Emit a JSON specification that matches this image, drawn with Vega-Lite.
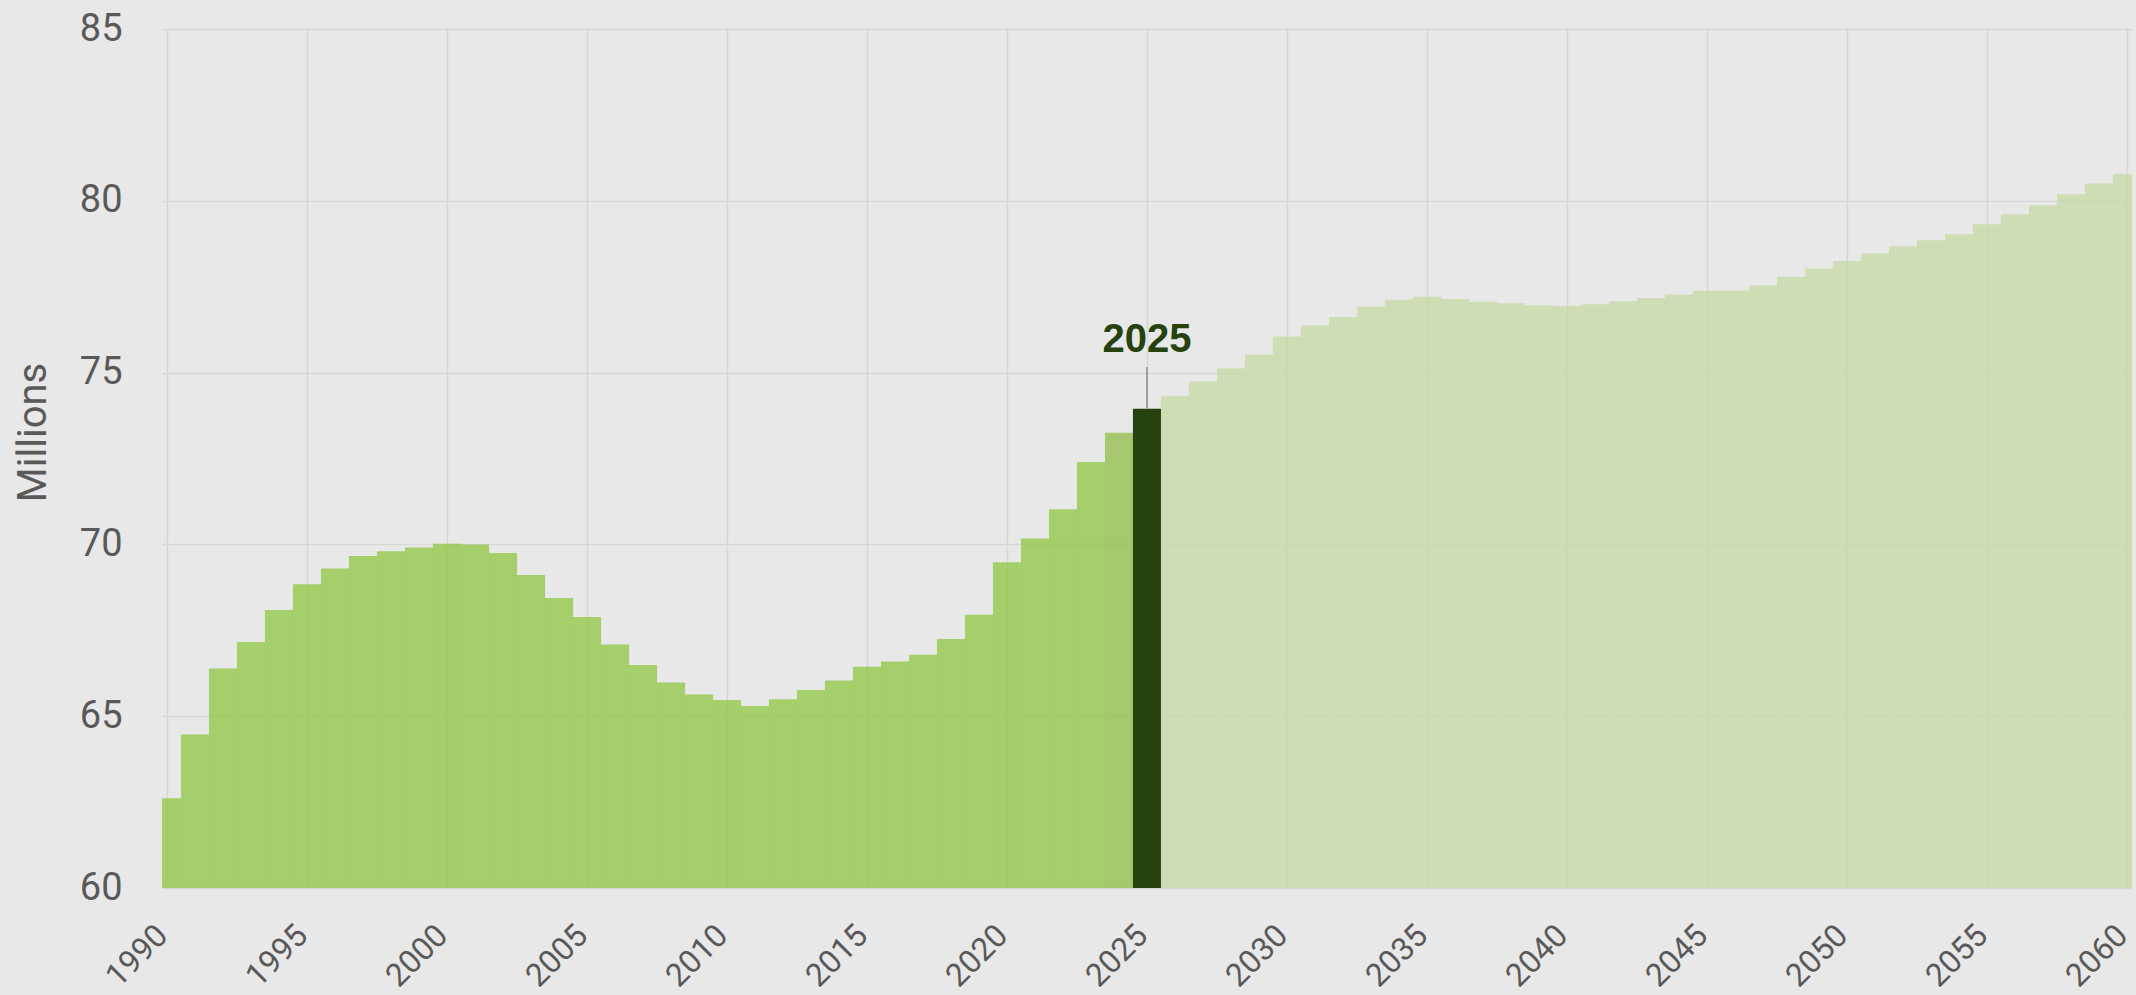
{
  "$schema": "https://vega.github.io/schema/vega-lite/v6.json",
  "width": 1970,
  "height": 859,
  "autosize": "none",
  "padding": {"left": 162, "top": 29, "right": 4, "bottom": 107},
  "background": "#E8E8E8",
  "config": {
    "view": {"stroke": null, "fill": "#E8E8E8"},
    "font": "Roboto"
  },
  "data": {
    "values": [
      {"year": 1990, "value": 62.61, "status": "historical"},
      {"year": 1991, "value": 64.47, "status": "historical"},
      {"year": 1992, "value": 66.39, "status": "historical"},
      {"year": 1993, "value": 67.16, "status": "historical"},
      {"year": 1994, "value": 68.09, "status": "historical"},
      {"year": 1995, "value": 68.84, "status": "historical"},
      {"year": 1996, "value": 69.30, "status": "historical"},
      {"year": 1997, "value": 69.66, "status": "historical"},
      {"year": 1998, "value": 69.80, "status": "historical"},
      {"year": 1999, "value": 69.91, "status": "historical"},
      {"year": 2000, "value": 70.02, "status": "historical"},
      {"year": 2001, "value": 70.00, "status": "historical"},
      {"year": 2002, "value": 69.75, "status": "historical"},
      {"year": 2003, "value": 69.11, "status": "historical"},
      {"year": 2004, "value": 68.44, "status": "historical"},
      {"year": 2005, "value": 67.89, "status": "historical"},
      {"year": 2006, "value": 67.09, "status": "historical"},
      {"year": 2007, "value": 66.49, "status": "historical"},
      {"year": 2008, "value": 65.98, "status": "historical"},
      {"year": 2009, "value": 65.63, "status": "historical"},
      {"year": 2010, "value": 65.47, "status": "historical"},
      {"year": 2011, "value": 65.30, "status": "historical"},
      {"year": 2012, "value": 65.49, "status": "historical"},
      {"year": 2013, "value": 65.76, "status": "historical"},
      {"year": 2014, "value": 66.04, "status": "historical"},
      {"year": 2015, "value": 66.44, "status": "historical"},
      {"year": 2016, "value": 66.59, "status": "historical"},
      {"year": 2017, "value": 66.79, "status": "historical"},
      {"year": 2018, "value": 67.25, "status": "historical"},
      {"year": 2019, "value": 67.95, "status": "historical"},
      {"year": 2020, "value": 69.48, "status": "historical"},
      {"year": 2021, "value": 70.17, "status": "historical"},
      {"year": 2022, "value": 71.02, "status": "historical"},
      {"year": 2023, "value": 72.40, "status": "historical"},
      {"year": 2024, "value": 73.25, "status": "estimate"},
      {"year": 2025, "value": 73.95, "status": "current"},
      {"year": 2026, "value": 74.31, "status": "projection"},
      {"year": 2027, "value": 74.74, "status": "projection"},
      {"year": 2028, "value": 75.13, "status": "projection"},
      {"year": 2029, "value": 75.53, "status": "projection"},
      {"year": 2030, "value": 76.05, "status": "projection"},
      {"year": 2031, "value": 76.37, "status": "projection"},
      {"year": 2032, "value": 76.62, "status": "projection"},
      {"year": 2033, "value": 76.92, "status": "projection"},
      {"year": 2034, "value": 77.12, "status": "projection"},
      {"year": 2035, "value": 77.21, "status": "projection"},
      {"year": 2036, "value": 77.14, "status": "projection"},
      {"year": 2037, "value": 77.06, "status": "projection"},
      {"year": 2038, "value": 77.02, "status": "projection"},
      {"year": 2039, "value": 76.96, "status": "projection"},
      {"year": 2040, "value": 76.94, "status": "projection"},
      {"year": 2041, "value": 76.99, "status": "projection"},
      {"year": 2042, "value": 77.08, "status": "projection"},
      {"year": 2043, "value": 77.17, "status": "projection"},
      {"year": 2044, "value": 77.27, "status": "projection"},
      {"year": 2045, "value": 77.38, "status": "projection"},
      {"year": 2046, "value": 77.39, "status": "projection"},
      {"year": 2047, "value": 77.54, "status": "projection"},
      {"year": 2048, "value": 77.79, "status": "projection"},
      {"year": 2049, "value": 78.03, "status": "projection"},
      {"year": 2050, "value": 78.25, "status": "projection"},
      {"year": 2051, "value": 78.47, "status": "projection"},
      {"year": 2052, "value": 78.68, "status": "projection"},
      {"year": 2053, "value": 78.85, "status": "projection"},
      {"year": 2054, "value": 79.03, "status": "projection"},
      {"year": 2055, "value": 79.32, "status": "projection"},
      {"year": 2056, "value": 79.61, "status": "projection"},
      {"year": 2057, "value": 79.87, "status": "projection"},
      {"year": 2058, "value": 80.19, "status": "projection"},
      {"year": 2059, "value": 80.50, "status": "projection"},
      {"year": 2060, "value": 80.78, "status": "projection"}
    ]
  },
  "encoding": {
    "x": {
      "field": "year",
      "type": "quantitative",
      "scale": {"domain": [1990, 2060], "nice": false, "zero": false},
      "axis": {
        "values": [1990, 1995, 2000, 2005, 2010, 2015, 2020, 2025, 2030, 2035, 2040, 2045, 2050, 2055, 2060],
        "format": "d",
        "title": null,
        "domain": false,
        "ticks": false,
        "labelAngle": -45,
        "labelAlign": "right",
        "labelBaseline": "middle",
        "labelPadding": 42,
        "labelOffset": -5,
        "labelFontSize": 32,
        "labelColor": "#595959",
        "labelFont": "Roboto",
        "labelOverlap": false,
        "labelFlush": false,
        "grid": true,
        "gridColor": "#D6D6D6",
        "gridWidth": 1.5
      }
    },
    "y": {
      "field": "value",
      "type": "quantitative",
      "scale": {"domain": [60, 85], "nice": false, "zero": false},
      "axis": {
        "values": [60, 65, 70, 75, 80, 85],
        "title": "Millions",
        "titleFont": "Roboto",
        "titleFontSize": 40,
        "titleFontWeight": "normal",
        "titleColor": "#595959",
        "titleAngle": -90,
        "titleAlign": "center",
        "titleBaseline": "alphabetic",
        "titleX": -117,
        "titleY": 403,
        "domain": false,
        "ticks": false,
        "labelPadding": 40,
        "labelFontSize": 38,
        "labelColor": "#595959",
        "labelFont": "Roboto",
        "labelFlush": false,
        "grid": true,
        "gridColor": "#D6D6D6",
        "gridWidth": 1.5
      }
    }
  },
  "layer": [
    {
      "mark": {"type": "bar", "width": 28.143, "clip": true},
      "encoding": {
        "y2": {"datum": 60},
        "color": {
          "field": "status",
          "type": "nominal",
          "scale": {
            "domain": ["historical", "estimate", "current", "projection"],
            "range": ["#94C84B", "#94BE4D", "#25420F", "#C8DAA8"]
          },
          "legend": null
        },
        "opacity": {
          "condition": {"test": "datum.status === 'current'", "value": 1},
          "value": 0.8
        }
      }
    },
    {
      "transform": [{"filter": "datum.status === 'current'"}],
      "mark": {"type": "rule", "color": "#A0A0A0", "strokeWidth": 2},
      "encoding": {
        "y2": {"datum": 75.16}
      }
    },
    {
      "transform": [{"filter": "datum.status === 'current'"}],
      "mark": {
        "type": "text",
        "font": "Liberation Sans",
        "fontWeight": "bold",
        "fontSize": 40,
        "color": "#25420F",
        "baseline": "alphabetic",
        "align": "center",
        "dy": -57
      },
      "encoding": {
        "text": {"field": "year", "type": "quantitative", "format": "d"}
      }
    }
  ]
}
